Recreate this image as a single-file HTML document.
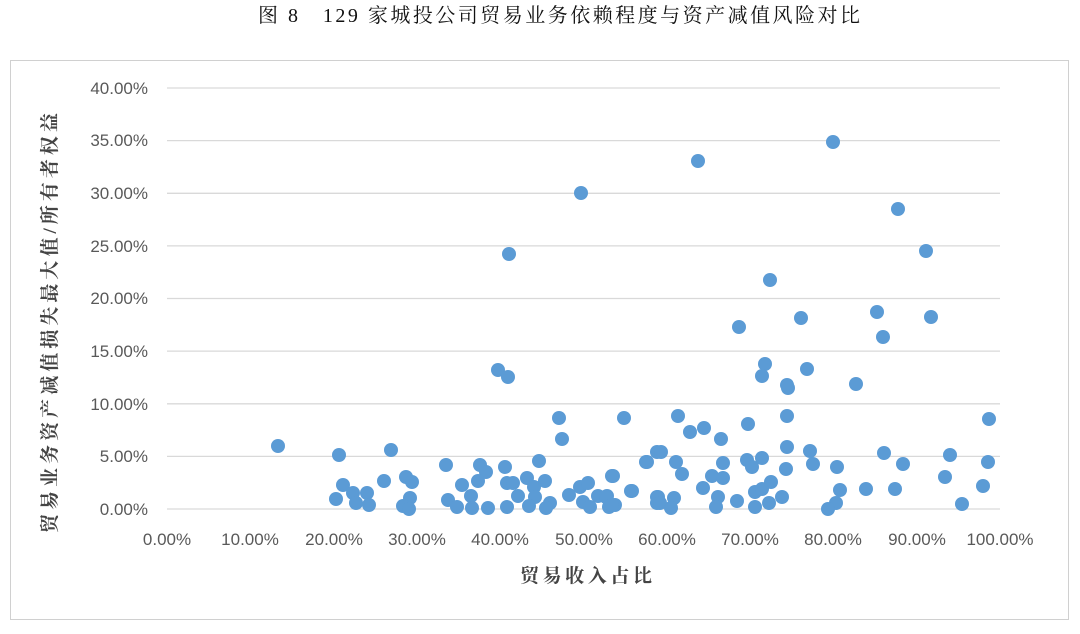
<!DOCTYPE html>
<html><head><meta charset="utf-8"><style>
body{margin:0;background:#fff;}
</style></head><body>
<svg width="1080" height="629" xmlns="http://www.w3.org/2000/svg" font-family="Liberation Sans, Noto Sans CJK SC, sans-serif">
<text x="258" y="22" textLength="602" lengthAdjust="spacing" font-size="20" font-family="Liberation Serif, Noto Serif CJK SC, serif" fill="#111">图 8　129 家城投公司贸易业务依赖程度与资产减值风险对比</text>
<rect x="10.5" y="60.5" width="1058" height="559" fill="none" stroke="#d0d0d0"/>
<g stroke="#d9d9d9" stroke-width="1.3">
<line x1="167" x2="1000" y1="509" y2="509"/><line x1="167" x2="1000" y1="456.4" y2="456.4"/><line x1="167" x2="1000" y1="403.8" y2="403.8"/><line x1="167" x2="1000" y1="351.1" y2="351.1"/><line x1="167" x2="1000" y1="298.5" y2="298.5"/><line x1="167" x2="1000" y1="245.9" y2="245.9"/><line x1="167" x2="1000" y1="193.3" y2="193.3"/><line x1="167" x2="1000" y1="140.6" y2="140.6"/><line x1="167" x2="1000" y1="88" y2="88"/>
</g>
<g font-size="17" fill="#595959" text-anchor="end">
<text x="148" y="515">0.00%</text><text x="148" y="462">5.00%</text><text x="148" y="410">10.00%</text><text x="148" y="357">15.00%</text><text x="148" y="304">20.00%</text><text x="148" y="252">25.00%</text><text x="148" y="199">30.00%</text><text x="148" y="146">35.00%</text><text x="148" y="94">40.00%</text>
</g>
<g font-size="17" fill="#595959" text-anchor="middle">
<text x="167" y="545">0.00%</text><text x="250" y="545">10.00%</text><text x="334" y="545">20.00%</text><text x="417" y="545">30.00%</text><text x="500" y="545">40.00%</text><text x="584" y="545">50.00%</text><text x="667" y="545">60.00%</text><text x="750" y="545">70.00%</text><text x="833" y="545">80.00%</text><text x="917" y="545">90.00%</text><text x="1000" y="545">100.00%</text>
</g>
<text x="520" y="582" textLength="132" lengthAdjust="spacing" font-size="19" font-weight="bold" fill="#444" font-family="Liberation Serif, Noto Serif CJK SC, serif">贸易收入占比</text>
<text transform="translate(56,533) rotate(-90)" textLength="420" lengthAdjust="spacing" font-size="19" font-weight="bold" fill="#444" font-family="Liberation Serif, Noto Serif CJK SC, serif">贸易业务资产减值损失最大值/所有者权益</text>
<g fill="#5b9bd5">
<circle cx="278" cy="446" r="7"/><circle cx="339" cy="455" r="7"/><circle cx="343" cy="485" r="7"/><circle cx="336" cy="499" r="7"/><circle cx="353" cy="493" r="7"/><circle cx="356" cy="503" r="7"/><circle cx="367" cy="493" r="7"/><circle cx="369" cy="505" r="7"/><circle cx="384" cy="481" r="7"/><circle cx="391" cy="450" r="7"/><circle cx="406" cy="477" r="7"/><circle cx="412" cy="482" r="7"/><circle cx="410" cy="498" r="7"/><circle cx="403" cy="506" r="7"/><circle cx="409" cy="509" r="7"/><circle cx="446" cy="465" r="7"/><circle cx="462" cy="485" r="7"/><circle cx="448" cy="500" r="7"/><circle cx="457" cy="507" r="7"/><circle cx="471" cy="496" r="7"/><circle cx="472" cy="508" r="7"/><circle cx="480" cy="465" r="7"/><circle cx="486" cy="472" r="7"/><circle cx="478" cy="481" r="7"/><circle cx="488" cy="508" r="7"/><circle cx="505" cy="467" r="7"/><circle cx="507" cy="483" r="7"/><circle cx="513" cy="483" r="7"/><circle cx="518" cy="496" r="7"/><circle cx="507" cy="507" r="7"/><circle cx="527" cy="478" r="7"/><circle cx="534" cy="487" r="7"/><circle cx="535" cy="497" r="7"/><circle cx="529" cy="506" r="7"/><circle cx="545" cy="481" r="7"/><circle cx="539" cy="461" r="7"/><circle cx="559" cy="418" r="7"/><circle cx="562" cy="439" r="7"/><circle cx="550" cy="503" r="7"/><circle cx="546" cy="508" r="7"/><circle cx="569" cy="495" r="7"/><circle cx="580" cy="487" r="7"/><circle cx="588" cy="483" r="7"/><circle cx="583" cy="502" r="7"/><circle cx="590" cy="507" r="7"/><circle cx="598" cy="496" r="7"/><circle cx="607" cy="496" r="7"/><circle cx="612" cy="476" r="7"/><circle cx="609" cy="507" r="7"/><circle cx="615" cy="505" r="7"/><circle cx="631" cy="491" r="7"/><circle cx="624" cy="418" r="7"/><circle cx="646" cy="462" r="7"/><circle cx="657" cy="452" r="7"/><circle cx="657" cy="497" r="7"/><circle cx="657" cy="503" r="7"/>
<circle cx="606" cy="497" r="7"/><circle cx="612" cy="505" r="7"/><circle cx="613" cy="476" r="7"/><circle cx="632" cy="491" r="7"/><circle cx="647" cy="462" r="7"/><circle cx="661" cy="452" r="7"/><circle cx="658" cy="497" r="7"/><circle cx="660" cy="503" r="7"/><circle cx="674" cy="498" r="7"/><circle cx="671" cy="508" r="7"/><circle cx="676" cy="462" r="7"/><circle cx="682" cy="474" r="7"/><circle cx="678" cy="416" r="7"/><circle cx="690" cy="432" r="7"/><circle cx="704" cy="428" r="7"/><circle cx="721" cy="439" r="7"/><circle cx="703" cy="488" r="7"/><circle cx="712" cy="476" r="7"/><circle cx="723" cy="463" r="7"/><circle cx="723" cy="478" r="7"/><circle cx="718" cy="497" r="7"/><circle cx="716" cy="507" r="7"/><circle cx="737" cy="501" r="7"/><circle cx="748" cy="424" r="7"/><circle cx="747" cy="460" r="7"/><circle cx="752" cy="467" r="7"/><circle cx="762" cy="458" r="7"/><circle cx="755" cy="492" r="7"/><circle cx="762" cy="489" r="7"/><circle cx="771" cy="482" r="7"/><circle cx="769" cy="503" r="7"/><circle cx="755" cy="507" r="7"/><circle cx="782" cy="497" r="7"/><circle cx="787" cy="416" r="7"/><circle cx="787" cy="447" r="7"/><circle cx="786" cy="469" r="7"/><circle cx="810" cy="451" r="7"/><circle cx="813" cy="464" r="7"/><circle cx="837" cy="467" r="7"/><circle cx="840" cy="490" r="7"/><circle cx="836" cy="503" r="7"/><circle cx="828" cy="509" r="7"/><circle cx="866" cy="489" r="7"/><circle cx="884" cy="453" r="7"/><circle cx="895" cy="489" r="7"/><circle cx="903" cy="464" r="7"/><circle cx="950" cy="455" r="7"/><circle cx="945" cy="477" r="7"/><circle cx="962" cy="504" r="7"/><circle cx="983" cy="486" r="7"/><circle cx="988" cy="462" r="7"/><circle cx="989" cy="419" r="7"/><circle cx="788" cy="388" r="7"/><circle cx="856" cy="384" r="7"/>
<circle cx="581" cy="193" r="7"/><circle cx="509" cy="254" r="7"/><circle cx="698" cy="161" r="7"/><circle cx="833" cy="142" r="7"/><circle cx="898" cy="209" r="7"/><circle cx="926" cy="251" r="7"/><circle cx="498" cy="370" r="7"/><circle cx="508" cy="377" r="7"/><circle cx="739" cy="327" r="7"/><circle cx="770" cy="280" r="7"/><circle cx="801" cy="318" r="7"/><circle cx="877" cy="312" r="7"/><circle cx="931" cy="317" r="7"/><circle cx="883" cy="337" r="7"/><circle cx="765" cy="364" r="7"/><circle cx="762" cy="376" r="7"/><circle cx="807" cy="369" r="7"/><circle cx="787" cy="385" r="7"/>
</g>
</svg>
</body></html>
